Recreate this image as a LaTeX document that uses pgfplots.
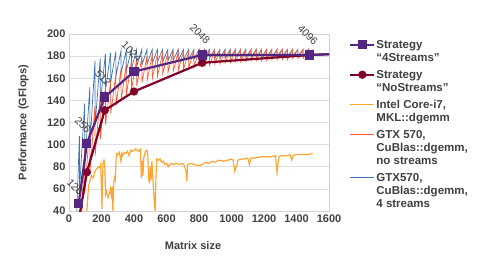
\documentclass[border=0pt]{standalone}
\usepackage{fontspec}
\setmainfont{Liberation Sans Bold}
\newfontfamily\regfont{Liberation Sans}
\usepackage{pgfplots}
\pgfplotsset{compat=1.18}
\definecolor{purp}{RGB}{84,38,128}
\definecolor{dred}{RGB}{130,0,40}
\definecolor{orng}{RGB}{255,165,50}
\definecolor{coral}{RGB}{255,90,50}
\definecolor{steel}{RGB}{65,115,175}
\definecolor{txt}{RGB}{64,64,64}
\begin{document}
\begin{tikzpicture}[x=1pt,y=1pt]
\path[use as bounding box] (0pt,0pt) rectangle (478pt,273pt);
\begin{axis}[
  at={(69pt,62pt)}, anchor=south west,
  scale only axis, width=260pt, height=177pt,
  xmin=0, xmax=1600, ymin=40, ymax=200,
  xtick distance=200, ytick distance=20,
  clip mode=individual,
  major tick length=0pt,
  axis line style={draw=gray!35},
  ymajorgrids, grid style={gray!25, line width=0.6pt},
  tick label style={font=\fontsize{11}{12}\selectfont, text=txt},
  /pgf/number format/assume math mode=true,
  /pgf/number format/1000 sep={},
  xlabel={Matrix size}, ylabel={Performance (GFlops)},
  every axis x label/.style={at={(axis description cs:0.477,-0.198)}, anchor=center,
     font=\fontsize{11}{12}\selectfont, text=txt},
  every axis y label/.style={at={(axis description cs:-0.175,0.5)}, rotate=90, anchor=center,
     font=\fontsize{11}{12}\selectfont, text=txt},
  legend style={at={(axis description cs:1.077,0.978)}, anchor=north west, draw=none, fill=none,
    inner sep=0pt, font=\fontsize{11.5}{13}\selectfont, text=txt, row sep=2pt,
    column sep=0pt,
    nodes={text height=, text depth=, inner sep=1pt},
    cells={anchor=base west}},
  legend image code/.code={\draw[#1] (0pt,3.5pt) -- (24pt,3.5pt);
     \path[#1] plot coordinates {(12pt,3.5pt)};},
  reverse legend,
]
% GTX570 4 streams
\addplot[steel, line width=0.7pt, mark=none] coordinates {
(48,40)
(64,108)(65,60)(96,137)(97,80)(128,152)(129,100)(160,176)(161,118)
(192,178)(193,138)(224,182)(225,150)(256,183)(257,157)(288,184)(289,162)
(320,185)(321,165)(352,185)(353,167)(384,186)(385,169)(416,186)(417,171)
(448,186)(449,172)(480,186)(481,173)(512,186)(513,174)(544,186)(545,175)
(576,186)(577,175)(608,186)(609,176)(640,186)(641,176)(672,186)(673,176)
(704,186)(705,177)(736,186)(737,177)(768,186)(769,177)(800,186)(801,178)
(832,186)(833,178)(864,186)(865,178)(896,186)(897,178)(928,186)(929,178)
(960,186)(961,178)(992,186)(993,179)(1024,186)(1025,179)(1056,186)(1057,179)
(1088,186)(1089,179)(1120,186)(1121,179)(1152,186)(1153,179)(1184,186)(1185,179)
(1216,186)(1217,179)(1248,186)(1249,179)(1280,186)(1281,180)(1312,186)(1313,180)
(1344,186)(1345,180)(1376,186)(1377,180)(1408,186)(1409,180)(1440,186)(1441,180)
(1472,186)(1473,180)(1504,186)
};
\addlegendentry{\begin{tabular}[t]{@{}l@{}}GTX570,\\CuBlas::dgemm,\\4 streams\end{tabular}}
% GTX 570 no streams
\addplot[coral, line width=0.7pt, mark=none] coordinates {
(80,40)
(96,95)(97,55)(128,118)(129,75)(160,135)(161,90)(192,145)(193,105)
(224,152)(225,118)(256,158)(257,128)(288,163)(289,135)(320,168)(321,140)
(352,172)(353,145)(384,175)(385,150)(416,177)(417,153)(448,179)(449,156)
(480,180)(481,158)(512,181)(513,160)(544,182)(545,162)(576,183)(577,164)
(608,183)(609,165)(640,184)(641,166)(672,184)(673,167)(704,184)(705,168)
(736,184)(737,169)(768,185)(769,170)(800,185)(801,171)(832,185)(833,172)
(864,185)(865,172)(896,185)(897,173)(928,185)(929,173)(960,185)(961,174)
(992,185)(993,174)(1024,186)(1025,175)(1056,186)(1057,175)(1088,186)(1089,175)
(1120,186)(1121,176)(1152,186)(1153,176)(1184,186)(1185,176)(1216,186)(1217,176)
(1248,186)(1249,177)(1280,186)(1281,177)(1312,186)(1313,177)(1344,186)(1345,177)
(1376,186)(1377,178)(1408,186)(1409,178)(1440,186)(1441,178)(1472,186)(1473,178)
(1504,186)
};
\addlegendentry{\begin{tabular}[t]{@{}l@{}}GTX 570,\\CuBlas::dgemm,\\no streams\end{tabular}}
% Intel MKL
\addplot[orng, line width=1.2pt, mark=none] coordinates {
(110,40)(120,62)(130,68)(140,72)(150,70)(160,76)(170,78)(180,80)(190,79)(195,82)
(200,60)(203,42)(206,70)(210,84)(215,86)(220,82)(225,55)(230,58)(240,52)(250,56)
(255,60)(260,55)(265,62)(270,40)(275,65)(280,70)(285,68)(290,88)(295,92)(300,91)
(310,93)(320,85)(325,92)(330,90)(340,93)(350,92)(360,94)(370,90)(380,95)(390,94)
(400,95)(410,96)(420,95)(430,94)(440,96)(445,70)(450,85)(455,72)(460,88)(470,94)
(480,95)(485,90)(490,70)(495,65)(500,80)(505,68)(510,85)(520,60)(525,48)(530,40)
(535,70)(540,87)(550,86)(560,87)(570,84)(580,85)(590,82)(600,83)(610,80)(620,82)
(630,83)(640,82)(660,83)(680,82)(700,83)(710,81)(720,76)(725,67)(730,82)(750,83)
(770,82)(800,81)(820,82)(840,84)(860,83)(880,85)(900,84)(920,86)(950,85)(980,86)
(1000,87)(1010,86)(1020,76)(1030,80)(1040,86)(1060,87)(1080,87)(1100,88)(1110,82)
(1120,88)(1150,88)(1180,89)(1200,89)(1240,89)(1270,90)(1280,75)(1290,88)(1300,90)
(1340,90)(1360,91)(1370,86)(1380,90)(1400,91)(1440,91)(1470,91)(1500,92)
};
\addlegendentry{\begin{tabular}[t]{@{}l@{}}Intel Core-i7,\\MKL::dgemm\end{tabular}}
% Strategy NoStreams
\addplot[dred, line width=2.2pt, mark=*, mark size=3pt] coordinates {
(65,36)(110,75)(220,131)(400,148)(820,174)(1480,181)(1800,183)
};
\addlegendentry{\begin{tabular}[t]{@{}l@{}}Strategy\\“NoStreams”\end{tabular}}
% Strategy 4Streams
\addplot[purp, line width=2.2pt, mark=square*, mark size=3.5pt] coordinates {
(60,47)(110,101)(220,143)(400,166)(820,181)(1480,181)(1800,183)
};
\addlegendentry{\begin{tabular}[t]{@{}l@{}}Strategy\\“4Streams”\end{tabular}}
\begin{scope}[every node/.style={font=\regfont\fontsize{10.5}{11}\selectfont, text=txt, rotate=-45}]
\node at (axis cs:37,62) {128};
\node at (axis cs:86,118) {256};
\node at (axis cs:210,160) {512};
\node at (axis cs:385,184) {1024};
\node at (axis cs:806,200) {2048};
\node at (axis cs:1470,199) {4096};
\end{scope}
\end{axis}
\end{tikzpicture}
\end{document}
